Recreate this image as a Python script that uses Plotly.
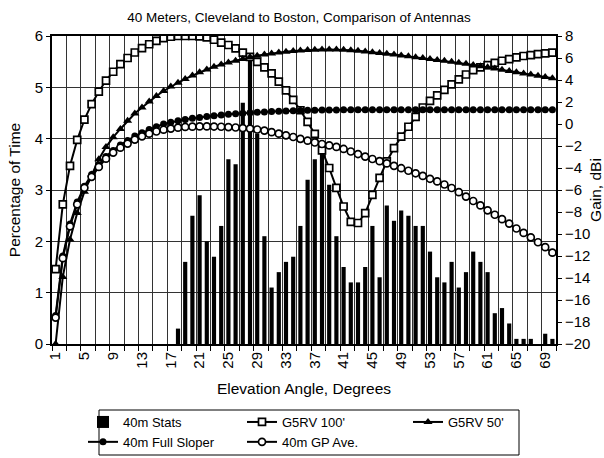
import plotly.graph_objects as go

# Elevation angles (degrees), one category per degree
angles = list(range(1, 71))
tick_angles = list(range(1, 70, 4))

# Percentage of time each elevation angle is observed on the path
stats_pct = [0] * 17 + [
    0.3, 1.6, 2.5, 2.9, 2.0, 1.7, 2.3, 3.6, 3.5, 4.7,
    5.6, 4.1, 2.1, 1.1, 1.4, 1.6, 1.7, 2.3, 3.2, 3.6,
    3.8, 3.1, 2.1, 1.5, 1.2, 1.2, 1.5, 2.3, 1.3, 2.7,
    2.4, 2.6, 2.5, 2.3, 2.3, 1.8, 1.3, 1.2, 1.6, 1.1,
    1.4, 1.8, 1.6, 1.4, 0.6, 0.7, 0.4, 0.1, 0.1, 0.1,
    0.0, 0.2, 0.1,
]

# Antenna gain (dBi) versus elevation angle
g5rv_100 = [
    -13.2, -7.3, -3.8, -1.45, 0.4, 1.8, 2.95, 3.95, 4.75, 5.45,
    6.0, 6.5, 6.9, 7.25, 7.55, 7.8, 7.93, 8.0, 8.0, 8.0,
    7.97, 7.88, 7.66, 7.4, 7.18, 6.88, 6.48, 6.1, 5.65, 5.15,
    4.6, 3.85, 3.05, 2.2, 1.25, 0.2, -0.9, -2.4, -4.0, -5.8,
    -7.5, -8.9, -9.0, -8.1, -6.45, -4.9, -3.4, -2.2, -1.15, -0.25,
    0.65, 1.5, 2.1, 2.6, 3.1, 3.6, 4.05, 4.5, 4.9, 5.15,
    5.35, 5.55, 5.75, 5.9, 6.05, 6.18, 6.27, 6.35, 6.42, 6.48,
]
g5rv_50 = [
    -20.0, -13.9, -10.5, -8.1, -6.15, -4.6, -3.2, -2.1, -1.2, -0.45,
    0.3, 0.95, 1.5, 2.05, 2.55, 3.0, 3.4, 3.75, 4.1, 4.4,
    4.7, 4.95, 5.2, 5.42, 5.6, 5.76, 5.92, 6.08, 6.2, 6.32,
    6.42, 6.5, 6.57, 6.63, 6.68, 6.72, 6.75, 6.77, 6.78, 6.77,
    6.74, 6.7, 6.65, 6.6, 6.53, 6.46, 6.39, 6.31, 6.23, 6.15,
    6.07, 5.99, 5.9, 5.82, 5.74, 5.65, 5.56, 5.47, 5.37, 5.26,
    5.15, 5.04, 4.93, 4.82, 4.71, 4.6, 4.49, 4.38, 4.27, 4.15,
]
full_sloper = [
    -17.4, -12.0, -9.1, -7.1, -5.65, -4.6, -3.7, -2.95, -2.4, -1.9,
    -1.5, -1.1, -0.8, -0.5, -0.25, 0.0, 0.15, 0.3, 0.42, 0.52,
    0.6, 0.68, 0.75, 0.82, 0.88, 0.93, 0.98, 1.02, 1.06, 1.1,
    1.13, 1.16, 1.19, 1.21, 1.23, 1.25, 1.26, 1.27, 1.28, 1.28,
    1.29, 1.29, 1.29, 1.3, 1.3, 1.3, 1.3, 1.3, 1.3, 1.3,
    1.3, 1.3, 1.3, 1.3, 1.3, 1.3, 1.3, 1.3, 1.3, 1.3,
    1.3, 1.3, 1.3, 1.3, 1.3, 1.3, 1.3, 1.3, 1.3, 1.3,
]
gp_ave = [
    -17.6, -12.2, -9.3, -7.3, -5.8, -4.8, -3.9, -3.15, -2.6, -2.15,
    -1.78, -1.42, -1.12, -0.88, -0.68, -0.52, -0.42, -0.33, -0.27, -0.24,
    -0.22, -0.22, -0.23, -0.25, -0.28, -0.32, -0.37, -0.42, -0.5, -0.6,
    -0.74, -0.88, -1.03, -1.18, -1.35, -1.52, -1.68, -1.82, -1.95, -2.08,
    -2.27, -2.5, -2.73, -2.96, -3.18, -3.38, -3.58, -3.8, -4.02, -4.25,
    -4.48, -4.72, -4.98, -5.22, -5.5, -5.82, -6.2, -6.6, -7.0, -7.4,
    -7.85, -8.25, -8.65, -9.05, -9.5, -9.9, -10.3, -10.75, -11.2, -11.7,
]

FONT = "Liberation Sans, Arial, sans-serif"
INK = "black"
GRID = "#333333"

fig = go.Figure()

fig.add_bar(
    x=angles, y=stats_pct, name="40m Stats",
    marker=dict(color=INK, line=dict(width=0)),
    legend="legend",
)

line_style = dict(color=INK, width=2)

fig.add_scatter(
    x=angles, y=g5rv_100, yaxis="y2", name="G5RV 100'", mode="lines+markers",
    line=line_style,
    marker=dict(symbol="square", size=7, color="white", line=dict(color=INK, width=1.7)),
    legend="legend2",
)
fig.add_scatter(
    x=angles, y=g5rv_50, yaxis="y2", name="G5RV 50'", mode="lines+markers",
    line=line_style,
    marker=dict(symbol="triangle-up", size=8, color=INK),
    legend="legend3",
)
fig.add_scatter(
    x=angles, y=full_sloper, yaxis="y2", name="40m Full Sloper", mode="lines+markers",
    line=line_style,
    marker=dict(symbol="circle", size=7, color=INK),
    legend="legend",
)
fig.add_scatter(
    x=angles, y=gp_ave, yaxis="y2", name="40m GP Ave.", mode="lines+markers",
    line=line_style,
    marker=dict(symbol="circle", size=7, color="white", line=dict(color=INK, width=1.7)),
    legend="legend2",
)

# pixel helpers for the plot frame (plot area spans 52..556 x 36..344)
def px_x(px):
    return (px - 52) / 504.0

def px_y(py):
    return (344 - py) / 308.0

legend_common = dict(
    font=dict(family=FONT, size=13, color=INK),
    bgcolor="rgba(0,0,0,0)", borderwidth=0,
    orientation="v", xanchor="left", yanchor="top",
    tracegroupgap=0,
)

fig.update_layout(
    width=604, height=458,
    margin=dict(l=52, r=48, t=36, b=114, autoexpand=False),
    paper_bgcolor="white", plot_bgcolor="white",
    font=dict(family=FONT, size=15, color=INK),
    title=dict(
        text="40 Meters, Cleveland to Boston, Comparison of Antennas",
        font=dict(family=FONT, size=13.5, color=INK),
        x=0.495, xref="container", xanchor="center",
        y=1 - 17 / 458, yref="container", yanchor="middle",
    ),
    bargap=0.42,
    showlegend=True,
    legend=dict(x=px_x(83), y=px_y(407), **legend_common),
    legend2=dict(x=px_x(242), y=px_y(407), **legend_common),
    legend3=dict(x=px_x(408), y=px_y(407), **legend_common),
    xaxis=dict(
        range=[0.5, 70.5], automargin=False,
        tickmode="array", tickvals=tick_angles, ticktext=[str(a) for a in tick_angles],
        tickangle=-90, ticks="", showgrid=False, zeroline=False,
        showline=True, linewidth=2, linecolor=INK, mirror=True,
        tickfont=dict(size=15),
        minor=dict(
            tickmode="array", tickvals=[0.5 + 2 * k for k in range(36)],
            ticks="outside", ticklen=5, tickwidth=1, tickcolor=INK,
            showgrid=True, gridcolor=GRID, gridwidth=1,
        ),
        title=dict(text="Elevation Angle, Degrees", font=dict(size=15.5), standoff=15),
    ),
    yaxis=dict(
        range=[0, 6], dtick=1, tick0=0, automargin=False,
        showgrid=True, gridcolor=GRID, gridwidth=1, zeroline=False,
        ticks="outside", ticklen=4, tickcolor=INK,
        showline=True, linewidth=2, linecolor=INK,
        tickfont=dict(size=15),
        title=dict(text="Percentage of Time", font=dict(size=15.5), standoff=10),
    ),
    yaxis2=dict(
        overlaying="y", side="right", automargin=False,
        range=[-20, 8], dtick=2, tick0=0,
        showgrid=False, zeroline=False,
        ticks="outside", ticklen=4, tickcolor=INK,
        showline=True, linewidth=2, linecolor=INK,
        tickfont=dict(size=15),
        title=dict(text="Gain, dBi", font=dict(size=15.5), standoff=4),
    ),
    shapes=[
        dict(
            type="rect", xref="paper", yref="paper",
            x0=px_x(99), x1=px_x(519), y0=px_y(455), y1=px_y(410),
            line=dict(color=INK, width=1), fillcolor="rgba(0,0,0,0)",
        )
    ],
)

fig.write_html("out.html")
